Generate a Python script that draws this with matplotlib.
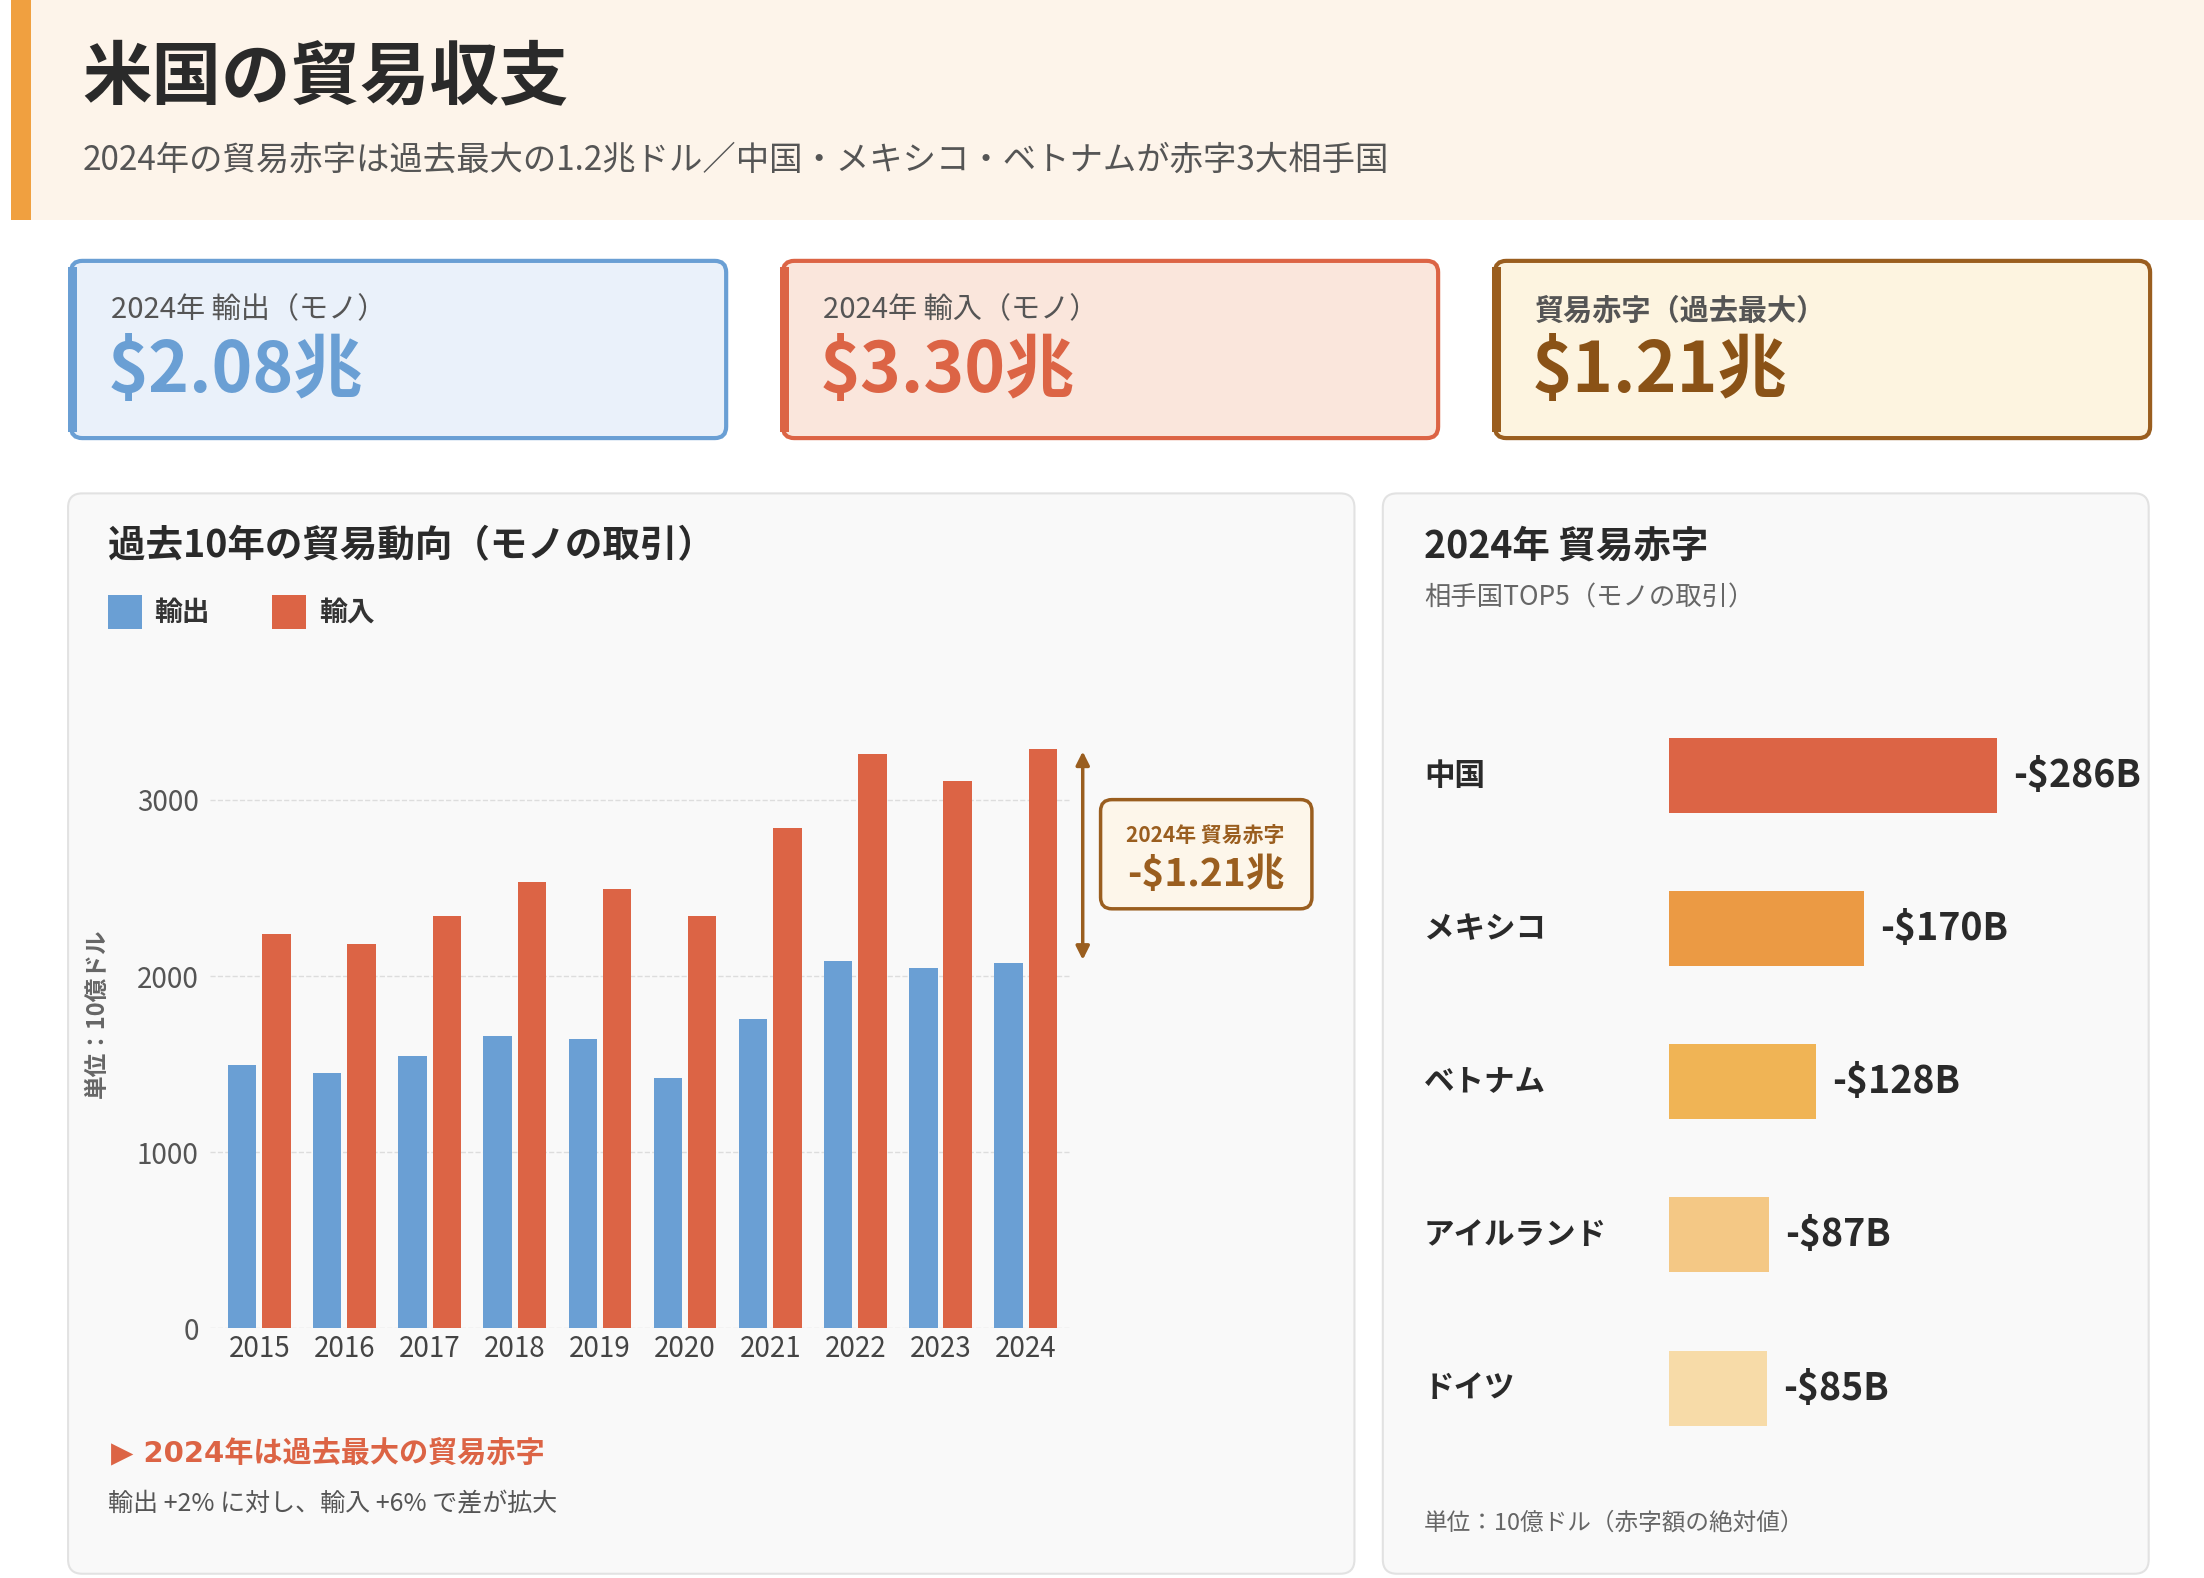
import matplotlib
matplotlib.use("Agg")
import matplotlib.pyplot as plt
from matplotlib.patches import FancyBboxPatch, Rectangle
import numpy as np

plt.rcParams['font.family'] = ['Noto Sans CJK JP', 'DejaVu Sans']

years = ['2015','2016','2017','2018','2019','2020','2021','2022','2023','2024']
exports = [1496,1448,1545,1657,1641,1424,1754,2084,2043,2076]
imports = [2237,2180,2341,2534,2494,2341,2840,3258,3105,3290]
partners = ['中国','メキシコ','ベトナム','アイルランド','ドイツ']
deficits = [286,170,128,87,85]
partner_colors = ['#dc6445','#eb9a44','#f0b455','#f4c885','#f7dba8']
BLUE = '#6a9fd4'; RED = '#dc6445'; BROWN = '#9a5e1f'

W, H = 1554, 1113
fig = plt.figure(figsize=(22.04, 15.78), dpi=100)
bg = fig.add_axes([0, 0, 1, 1])
bg.set_xlim(0, W); bg.set_ylim(H, 0); bg.axis('off')

def fx(x): return x / W
def fy(y): return 1 - y / H

# header
bg.add_patch(Rectangle((8, 0), W - 8, 155, color='#fdf4ea', lw=0))
bg.add_patch(Rectangle((8, 0), 14, 155, color='#f0a040', lw=0))
bg.text(58, 55, '米国の貿易収支', fontsize=50, fontweight='bold', color='#2a2a2a', va='center')
bg.text(58, 113, '2024年の貿易赤字は過去最大の1.2兆ドル／中国・メキシコ・ベトナムが赤字3大相手国',
        fontsize=24, color='#555555', va='center')

# cards
cards = [(48, '#eaf1fa', BLUE, BLUE, '2024年 輸出（モノ）', '$2.08兆'),
         (550, '#fae6dc', RED, RED, '2024年 輸入（モノ）', '$3.30兆'),
         (1052, '#fdf4e0', BROWN, '#8a5216', '貿易赤字（過去最大）', '$1.21兆')]
for x0, fc, ec, vc, lab, val in cards:
    bg.add_patch(FancyBboxPatch((x0 + 2, 184), 462, 125, boxstyle='round,pad=0,rounding_size=8',
                                fc=fc, ec=ec, lw=3))
    bg.add_patch(Rectangle((x0, 188), 6, 117, color=ec, lw=0))
    bg.text(x0 + 30, 219, lab, fontsize=21, color='#555555', va='center',
            fontweight='bold' if x0 > 1000 else 'normal')
    bg.text(x0 + 28, 262, val, fontsize=50, fontweight='bold', color=vc, va='center')

# panels
for x0, x1 in [(48, 955), (975, 1515)]:
    bg.add_patch(FancyBboxPatch((x0, 348), x1 - x0, 762, boxstyle='round,pad=0,rounding_size=10',
                                fc='#f9f9f9', ec='#e2e2e2', lw=1.5))

bg.text(76, 385, '過去10年の貿易動向（モノの取引）', fontsize=27, fontweight='bold', color='#2a2a2a', va='center')
bg.add_patch(Rectangle((76, 420), 24, 24, color=BLUE, lw=0))
bg.text(109, 432, '輸出', fontsize=20, fontweight='bold', color='#333333', va='center')
bg.add_patch(Rectangle((192, 420), 24, 24, color=RED, lw=0))
bg.text(225, 432, '輸入', fontsize=20, fontweight='bold', color='#333333', va='center')
bg.text(78, 1025, '▶ 2024年は過去最大の貿易赤字', fontsize=21, fontweight='bold', color=RED, va='center',
        family=['DejaVu Sans', 'Noto Sans CJK JP'])
bg.text(76, 1061, '輸出 +2% に対し、輸入 +6% で差が拡大', fontsize=18, color='#555555', va='center')
bg.text(68, 715, '単位：10億ドル', fontsize=17, fontweight='bold', color='#666666', rotation=90,
        va='center', ha='center')

# bar chart
ymax = 3600
top = 937 - ymax * 0.1243
ax = fig.add_axes([fx(148), fy(937), fx(755) - fx(148), (937 - top) / H])
ax.set_facecolor('none')
x = np.arange(len(years))
bw = 0.333
ax.bar(x - bw / 2 - 0.035, exports, bw, color=BLUE, zorder=3)
ax.bar(x + bw / 2 + 0.035, imports, bw, color=RED, zorder=3)
ax.set_xlim(-0.58, 9.53); ax.set_ylim(0, ymax)
ax.set_yticks([0, 1000, 2000, 3000])
ax.set_yticklabels(['0', '1000', '2000', '3000'], fontsize=20, color='#555555')
ax.set_xticks(x); ax.set_xticklabels(years, fontsize=20, color='#444444')
ax.tick_params(length=0, pad=8)
ax.tick_params(axis='x', pad=4)
for s in ax.spines.values(): s.set_visible(False)
ax.grid(axis='y', ls='--', color='#dddddd', lw=1, zorder=0)

# deficit annotation
ax.annotate('', xy=(9.67, exports[-1]), xytext=(9.67, imports[-1]),
            arrowprops=dict(arrowstyle='<|-|>', color=BROWN, lw=2.5, mutation_scale=20),
            annotation_clip=False)
bg.add_patch(FancyBboxPatch((776, 564), 149, 77, boxstyle='round,pad=0,rounding_size=8',
                            fc='#fdf6ea', ec=BROWN, lw=2.5))
bg.text(850, 589, '2024年 貿易赤字', fontsize=15, fontweight='bold', color=BROWN, ha='center', va='center')
bg.text(850, 617, '-$1.21兆', fontsize=28, fontweight='bold', color=BROWN, ha='center', va='center')

# right panel
bg.text(1004, 385, '2024年 貿易赤字', fontsize=27, fontweight='bold', color='#2a2a2a', va='center')
bg.text(1004, 422, '相手国TOP5（モノの取引）', fontsize=19, color='#666666', va='center')
bg.text(1004, 1074, '単位：10億ドル（赤字額の絶対値）', fontsize=17, color='#666666', va='center')

px_per = 231 / 286
rx0, rx1 = 1177, 1540
rtop, rbot = 493, 1033
ax2 = fig.add_axes([fx(rx0), fy(rbot), fx(rx1) - fx(rx0), (rbot - rtop) / H])
ax2.set_facecolor('none'); ax2.axis('off')
yy = np.arange(len(partners))
ax2.barh(yy, deficits, height=0.49, color=partner_colors)
ax2.set_ylim(len(partners) - 0.5, -0.5)
ax2.set_xlim(0, (rx1 - rx0) / px_per)
for i, (p, d) in enumerate(zip(partners, deficits)):
    ax2.text(d + 14, i, f'-${d}B', fontsize=27, fontweight='bold', color='#2a2a2a', va='center')
    bg.text(1004, 547 + 108 * i, p, fontsize=22, fontweight='bold', color='#2a2a2a', va='center')

fig.savefig('out.png', dpi=100, facecolor='white')
